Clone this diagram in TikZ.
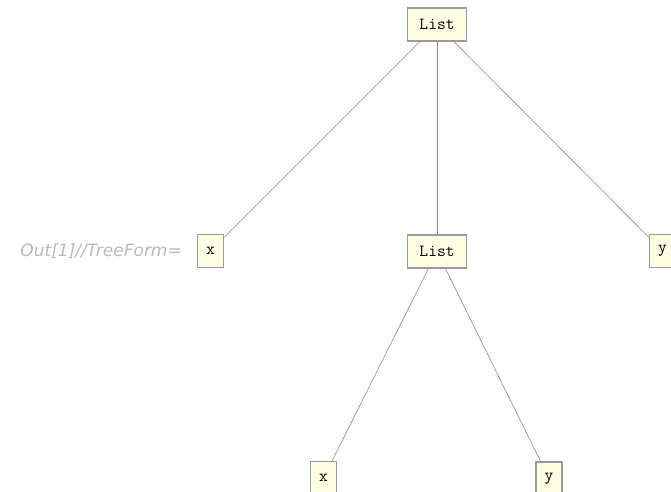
\documentclass[tikz,border=0pt]{standalone}
\usepackage{fontspec}
\newfontfamily\labelfont{DejaVu Sans}
\definecolor{edgecol}{RGB}{170,120,140}
\definecolor{boxfill}{RGB}{255,253,228}
\definecolor{boxdraw}{RGB}{155,155,155}
\definecolor{labelgray}{RGB}{185,185,185}
\tikzset{
  treebox/.style={draw=boxdraw, line width=1.3pt, fill=boxfill, minimum height=33pt, inner sep=0pt, font=\ttfamily\fontsize{17}{19}\selectfont},
  wide/.style={minimum width=59pt},
  narrow/.style={minimum width=26pt},
  edge/.style={draw=edgecol, line width=0.6pt}
}
\begin{document}
\begin{tikzpicture}[x=1pt,y=-1pt]
\useasboundingbox (0,0) rectangle (671,491);
\node[treebox,wide] (root) at (437,24.5) {List};
\node[treebox,narrow] (x1) at (210.5,251) {x};
\node[treebox,wide] (mid) at (437,251.5) {List};
\node[treebox,narrow] (y1) at (662.5,251) {y};
\node[treebox,narrow] (x2) at (323.5,478) {x};
\node[treebox,narrow] (y2) at (549,478.5) {y};
\node[anchor=east, font=\labelfont\itshape\fontsize{17}{19}\selectfont, text=labelgray, inner sep=0pt] (lab) at (182,251) {Out[1]//TreeForm=};
\draw[edge] (root) -- (x1);
\draw[edge] (root) -- (mid);
\draw[edge] (root) -- (y1);
\draw[edge] (mid) -- (x2);
\draw[edge] (mid) -- (y2);
\end{tikzpicture}
\end{document}
